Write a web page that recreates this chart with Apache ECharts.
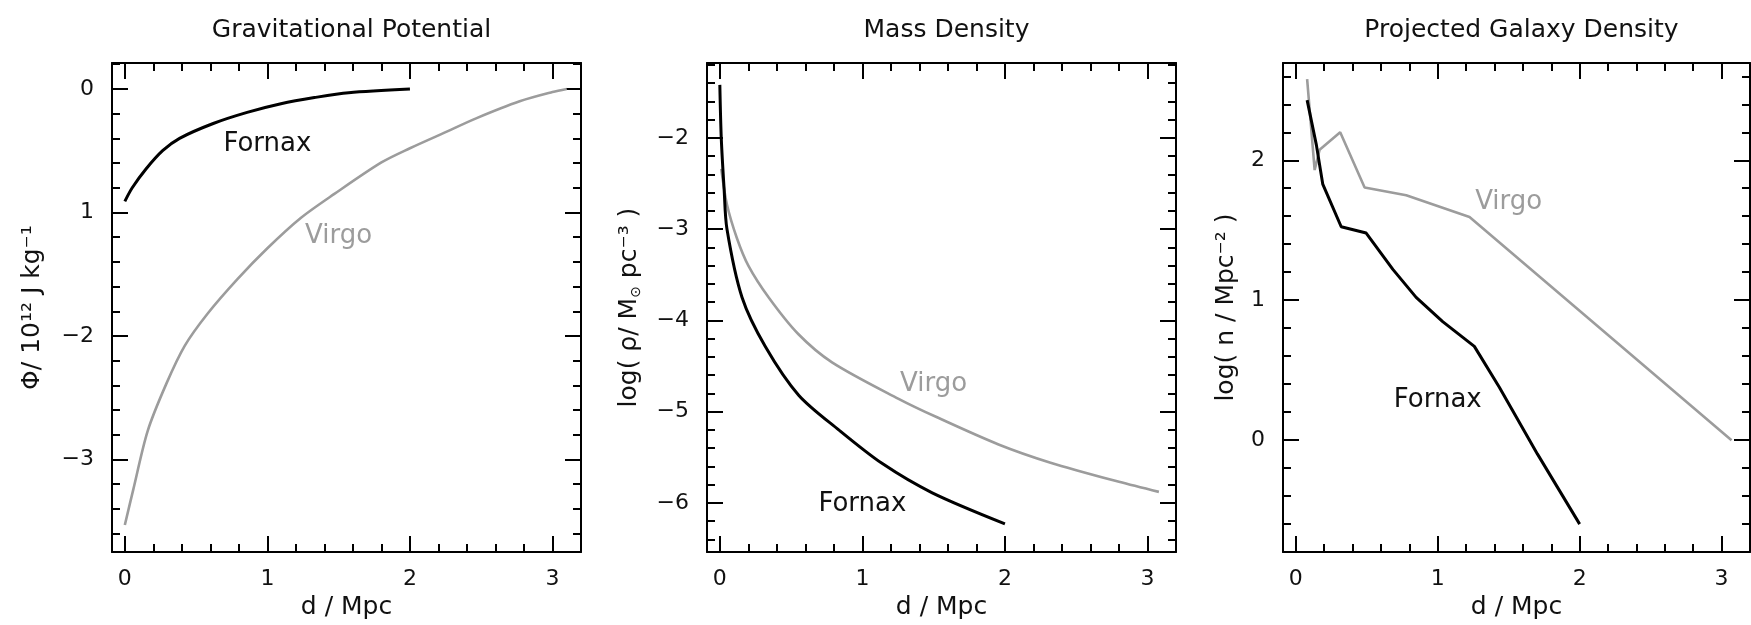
<!DOCTYPE html>
<html>
<head>
<meta charset="utf-8">
<script src="https://cdn.jsdelivr.net/npm/echarts@6/dist/echarts.min.js"></script>
<style>
  html, body { margin: 0; background: #fff; }
  #chart { width: 1751px; height: 625px; }
</style>
</head>
<body>
<div id="chart"></div>
<script>
// ---- tick labels ----
const xTicks = [0, 1, 2, 3]
const xTickText = ['0', '1', '2', '3']
const potTicks = [0, -1, -2, -3]
const potTickText = ['0', '1', '−2', '−3']
const rhoTicks = [-2, -3, -4, -5, -6]
const rhoTickText = ['−2', '−3', '−4', '−5', '−6']
const nTicks = [2, 1, 0]
const nTickText = ['2', '1', '0']

// ---- Gravitational Potential (d in Mpc, phi in 1e12 J/kg) ----
const fornaxPotD = [0, 0.052, 0.147, 0.265, 0.384, 0.62, 0.858, 1.095, 1.33, 1.57, 2.0]
const fornaxPot = [-0.91, -0.8, -0.65, -0.5, -0.4, -0.28, -0.19, -0.12, -0.07, -0.03, 0]
const virgoPotD = [0, 0.06, 0.16, 0.29, 0.42, 0.58, 0.79, 1.0, 1.234, 1.47, 1.8, 2.0, 2.25, 2.46, 2.77, 3.0, 3.1]
const virgoPot = [-3.53, -3.24, -2.77, -2.39, -2.08, -1.82, -1.54, -1.29, -1.045, -0.85, -0.595, -0.48, -0.35, -0.24, -0.1, -0.025, 0]

// ---- Mass Density (log rho) ----
const fornaxRhoD = [0, 0.01, 0.03, 0.05, 0.156, 0.32, 0.553, 0.834, 1.14, 1.49, 2.0]
const fornaxRho = [-1.42, -2.0, -2.56, -3.0, -3.75, -4.29, -4.82, -5.2, -5.57, -5.89, -6.23]
const virgoRhoD = [0.01, 0.05, 0.12, 0.2, 0.343, 0.55, 0.787, 1.254, 1.52, 1.955, 2.32, 2.8, 3.08]
const virgoRho = [-2.34, -2.73, -3.1, -3.4, -3.75, -4.15, -4.46, -4.86, -5.06, -5.36, -5.56, -5.77, -5.88]

// ---- Projected Galaxy Density (log n) ----
const fornaxND = [0.08, 0.145, 0.19, 0.32, 0.496, 0.684, 0.848, 1.035, 1.258, 1.433, 1.703, 2.0]
const fornaxN = [2.43, 2.11, 1.83, 1.525, 1.48, 1.22, 1.02, 0.847, 0.67, 0.38, -0.1, -0.6]
const virgoND = [0.08, 0.133, 0.168, 0.313, 0.485, 0.778, 1.224, 3.07]
const virgoN = [2.58, 1.93, 2.075, 2.2, 1.805, 1.75, 1.595, 0.0]

const FONT = 'DejaVu Sans'
const INK = '#111'
const BLACK = '#000'
const GREY = '#9c9c9c'

const zip = (xs, ys) => xs.map((x, i) => [x, ys[i]])
const minors = (lo, hi) => {
  const out = []
  for (let k = Math.ceil(lo * 5); k <= Math.floor(hi * 5); k++) {
    if (k % 5 !== 0) out.push(k / 5)
  }
  return out
}

const panels = [
  {
    title: 'Gravitational Potential', left: 112, width: 469,
    yMin: -3.75, yMax: 0.21, yTicks: potTicks, yText: potTickText,
    yName: 'Φ/ 10¹² J kg⁻¹', yGap: 67,
    smooth: 0.3,
    fornax: zip(fornaxPotD, fornaxPot), virgo: zip(virgoPotD, virgoPot),
    fornaxLabel: [1.0, -0.45], virgoLabel: [1.5, -1.19],
  },
  {
    title: 'Mass Density', left: 707, width: 469,
    yMin: -6.54, yMax: -1.18, yTicks: rhoTicks, yText: rhoTickText,
    yName: '{n|log( ρ/ M}{s|⊙}{n| pc⁻³ )}', yGap: 64,
    smooth: 0.3,
    fornax: zip(fornaxRhoD, fornaxRho), virgo: zip(virgoRhoD, virgoRho),
    fornaxLabel: [1.0, -6.02], virgoLabel: [1.5, -4.7],
  },
  {
    title: 'Projected Galaxy Density', left: 1283, width: 467,
    yMin: -0.8, yMax: 2.695, yTicks: nTicks, yText: nTickText,
    yName: 'log( n / Mpc⁻² )', yGap: 44,
    smooth: false,
    fornax: zip(fornaxND, fornaxN), virgo: zip(virgoND, virgoN),
    fornaxLabel: [1.0, 0.286], virgoLabel: [1.5, 1.7],
  },
]

const X_MIN = -0.09
const X_MAX = 3.2
const TOP = 63
const HEIGHT = 498

const grid = []
const title = []
const xAxis = []
const yAxis = []
const series = []

const tickLine = { color: BLACK, width: 2 }
const frameLine = { show: true, onZero: false, lineStyle: tickLine }
const noLine = { show: false, onZero: false }
const labelStyle = { fontFamily: FONT, fontSize: 22, color: INK }

panels.forEach((p, g) => {
  grid.push({ left: p.left, top: TOP, width: p.width, height: HEIGHT, containLabel: false })
  title.push({
    text: p.title, left: p.left + p.width / 2, top: 13, textAlign: 'center',
    textStyle: { fontFamily: FONT, fontSize: 25, fontWeight: 'normal', color: INK },
  })

  const xm = minors(X_MIN, X_MAX)
  const ym = minors(p.yMin, p.yMax)
  const base = { gridIndex: g, type: 'value', splitLine: { show: false } }

  // x: bottom major, bottom minor, top major, top minor
  xAxis.push({
    ...base, min: X_MIN, max: X_MAX, position: 'bottom',
    axisLine: frameLine,
    axisTick: { show: true, inside: true, length: 16, customValues: xTicks, lineStyle: tickLine },
    axisLabel: {
      show: true, customValues: xTicks, margin: 16, ...labelStyle,
      formatter: v => xTickText[xTicks.indexOf(v)],
    },
    name: 'd / Mpc', nameLocation: 'middle', nameGap: 35,
    nameTextStyle: { fontFamily: FONT, fontSize: 25, color: INK },
  })
  xAxis.push({
    ...base, min: X_MIN, max: X_MAX, position: 'bottom',
    axisLine: noLine,
    axisTick: { show: true, inside: true, length: 8, customValues: xm, lineStyle: tickLine },
    axisLabel: { show: false },
  })
  xAxis.push({
    ...base, min: X_MIN, max: X_MAX, position: 'top',
    axisLine: frameLine,
    axisTick: { show: true, inside: true, length: 16, customValues: xTicks, lineStyle: tickLine },
    axisLabel: { show: false },
  })
  xAxis.push({
    ...base, min: X_MIN, max: X_MAX, position: 'top',
    axisLine: noLine,
    axisTick: { show: true, inside: true, length: 8, customValues: xm, lineStyle: tickLine },
    axisLabel: { show: false },
  })

  // y: left major, left minor, right major, right minor
  yAxis.push({
    ...base, min: p.yMin, max: p.yMax, position: 'left',
    axisLine: frameLine,
    axisTick: { show: true, inside: true, length: 16, customValues: p.yTicks, lineStyle: tickLine },
    axisLabel: {
      show: true, customValues: p.yTicks, margin: 18, ...labelStyle,
      formatter: v => p.yText[p.yTicks.indexOf(v)],
    },
    name: p.yName, nameLocation: 'middle', nameGap: p.yGap,
    nameTextStyle: {
      fontFamily: FONT, fontSize: 25, color: INK,
      rich: {
        n: { fontFamily: FONT, fontSize: 25, color: INK },
        s: { fontFamily: FONT, fontSize: 14, color: INK, padding: [14, 0, 0, 0] },
      },
    },
  })
  yAxis.push({
    ...base, min: p.yMin, max: p.yMax, position: 'left',
    axisLine: noLine,
    axisTick: { show: true, inside: true, length: 8, customValues: ym, lineStyle: tickLine },
    axisLabel: { show: false },
  })
  yAxis.push({
    ...base, min: p.yMin, max: p.yMax, position: 'right',
    axisLine: frameLine,
    axisTick: { show: true, inside: true, length: 16, customValues: p.yTicks, lineStyle: tickLine },
    axisLabel: { show: false },
  })
  yAxis.push({
    ...base, min: p.yMin, max: p.yMax, position: 'right',
    axisLine: noLine,
    axisTick: { show: true, inside: true, length: 8, customValues: ym, lineStyle: tickLine },
    axisLabel: { show: false },
  })

  const ax = { xAxisIndex: g * 4, yAxisIndex: g * 4 }
  const tag = (name, coord, color) => ({
    symbol: 'circle', symbolSize: 0, silent: true,
    label: { show: true, position: 'inside', formatter: '{b}', fontFamily: FONT, fontSize: 26, color },
    data: [{ name, coord }],
  })

  series.push({
    ...ax, type: 'line', name: 'Virgo', data: p.virgo, smooth: p.smooth,
    showSymbol: false, silent: true,
    lineStyle: { color: GREY, width: 2.6 },
    markPoint: tag('Virgo', p.virgoLabel, GREY),
  })
  series.push({
    ...ax, type: 'line', name: 'Fornax', data: p.fornax, smooth: p.smooth,
    showSymbol: false, silent: true,
    lineStyle: { color: BLACK, width: 3 },
    markPoint: tag('Fornax', p.fornaxLabel, INK),
  })
})

const chart = echarts.init(document.getElementById('chart'))
chart.setOption({
  backgroundColor: '#fff',
  animation: false,
  title,
  grid,
  xAxis,
  yAxis,
  series,
})
</script>
</body>
</html>
